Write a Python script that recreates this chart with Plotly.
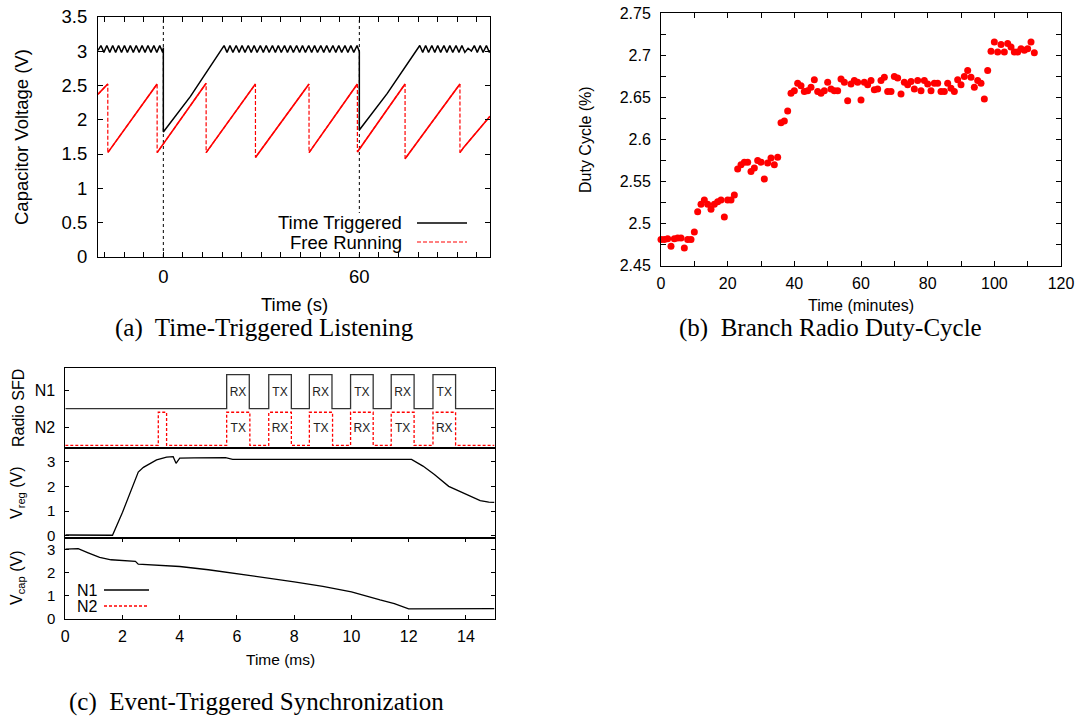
import plotly.graph_objects as go

W, H = 1081, 717


def fx(p):
    return p / W


def fy(p):
    return 1 - p / H


# ---------------- (a) Time-Triggered Listening ----------------
tt_time = [-20.0, -19.1, -18.2, -17.3, -16.4, -15.5, -14.6, -13.7, -12.8, -11.9, -11.0,
           -10.1, -9.2, -8.3, -7.4, -6.5, -5.6, -4.7, -3.8, -2.9, -2.0, -1.1, -0.2, 0.0, 0.0,
           8.3, 18.6, 19.5, 20.4, 21.3, 22.3, 23.2, 24.1, 25.0, 26.0, 26.9, 27.8, 28.7, 29.7,
           30.6, 31.5, 32.4, 33.4, 34.3, 35.2, 36.1, 37.1, 38.0, 38.9, 39.8, 40.8, 41.7, 42.6,
           43.5, 44.5, 45.4, 46.3, 47.2, 48.2, 49.1, 50.0, 50.9, 51.9, 52.8, 53.7, 54.6, 55.6,
           56.5, 57.4, 58.3, 59.3, 60.0, 60.0, 68.5, 78.5, 79.4, 80.3, 81.2, 82.2, 83.1, 84.0,
           84.9, 85.9, 86.8, 87.7, 88.6, 89.6, 90.5, 91.4, 92.3, 93.3, 94.3, 95.2, 96.1, 97.0,
           97.9, 98.9, 99.8, 100.0]
tt_volt = [3.01, 3.08, 2.98, 3.08, 2.98, 3.08, 2.98, 3.08, 2.98, 3.08, 2.98,
           3.08, 2.98, 3.08, 2.98, 3.08, 2.98, 3.08, 2.98, 3.08, 2.98, 3.08, 2.98, 3.05, 1.82,
           2.34, 3.08, 2.98, 3.08, 2.98, 3.08, 2.98, 3.08, 2.98, 3.08, 2.98, 3.08, 2.98, 3.08,
           2.98, 3.08, 2.98, 3.08, 2.98, 3.08, 2.98, 3.08, 2.98, 3.08, 2.98, 3.08, 2.98, 3.08,
           2.98, 3.08, 2.98, 3.08, 2.98, 3.08, 2.98, 3.08, 2.98, 3.08, 2.98, 3.08, 2.98, 3.08,
           2.98, 3.08, 2.98, 3.08, 2.99, 1.85, 2.38, 3.08, 2.98, 3.08, 2.98, 3.08, 2.98, 3.08,
           2.98, 3.08, 2.98, 3.08, 2.98, 3.08, 2.98, 3.08, 2.98, 3.04, 3.00, 3.08, 2.98, 3.08,
           2.98, 3.08, 2.98, 3.01]

fr_time = [-20.0, -17.0, -17.0, -1.9, -1.9, 13.1, 13.1, 28.2, 28.2, 44.6, 44.6, 59.4, 59.4,
           74.0, 74.0, 90.8, 90.8, 92.0, 100.0]
fr_volt = [2.37, 2.52, 1.52, 2.52, 1.52, 2.53, 1.52, 2.52, 1.45, 2.52, 1.52, 2.52, 1.53,
           2.52, 1.43, 2.52, 1.52, 1.60, 2.05]

a_label_ticks = [0, 60]
a_minor_step = 6
a_grid_times = [0, 60]

# ---------------- (b) Branch Radio Duty-Cycle ----------------
dc_minutes = list(range(0, 113))
dc_values = [2.481, 2.481, 2.482, 2.473, 2.482, 2.483, 2.483, 2.471, 2.481, 2.481,
             2.490, 2.514, 2.523, 2.528, 2.523, 2.517, 2.523, 2.526, 2.528, 2.508,
             2.528, 2.528, 2.534, 2.565, 2.570, 2.573, 2.573, 2.562, 2.566, 2.575,
             2.573, 2.553, 2.572, 2.578, 2.570, 2.579, 2.620, 2.622, 2.634, 2.655,
             2.658, 2.667, 2.664, 2.657, 2.658, 2.662, 2.671, 2.657, 2.655, 2.658,
             2.668, 2.660, 2.658, 2.658, 2.672, 2.668, 2.646, 2.666, 2.670, 2.668,
             2.647, 2.668, 2.665, 2.670, 2.659, 2.660, 2.670, 2.674, 2.657, 2.657,
             2.675, 2.673, 2.654, 2.668, 2.665, 2.669, 2.660, 2.670, 2.658, 2.670,
             2.666, 2.658, 2.667, 2.667, 2.657, 2.657, 2.667, 2.661, 2.657, 2.671,
             2.665, 2.675, 2.682, 2.674, 2.662, 2.670, 2.667, 2.648, 2.682, 2.705,
             2.716, 2.704, 2.713, 2.704, 2.714, 2.710, 2.704, 2.704, 2.708, 2.706,
             2.708, 2.716, 2.703]

# ---------------- (c) Event-Triggered Synchronization ----------------
n1_start = [5.64, 7.11, 8.53, 9.97, 11.39, 12.85]
n1_end = [6.43, 7.90, 9.32, 10.76, 12.19, 13.64]
n1_labels = ["RX", "TX", "RX", "TX", "RX", "TX"]
n2_start = [3.25, 5.64, 7.11, 8.53, 9.97, 11.39, 12.85]
n2_end = [3.54, 6.45, 7.90, 9.34, 10.76, 12.19, 13.64]
n2_label_start = [5.64, 7.11, 8.53, 9.97, 11.39, 12.85]
n2_label_end = [6.45, 7.90, 9.34, 10.76, 12.19, 13.64]
n2_labels = ["TX", "RX", "TX", "RX", "TX", "RX"]

vreg_t = [0.0, 0.5, 1.0, 1.65, 2.0, 2.3, 2.55, 2.73, 3.0, 3.19, 3.54, 3.77, 3.87, 4.0,
          4.5, 5.0, 5.6, 5.85, 6.5, 7.5, 8.0, 8.5, 9.5, 10.5, 11.5, 12.1, 12.5, 12.9,
          13.4, 13.8, 14.2, 14.5, 14.8, 15.0]
vreg_v = [0.03, 0.02, 0.03, 0.02, 0.95, 1.85, 2.58, 2.77, 2.95, 3.07, 3.18, 3.20, 2.93, 3.14,
          3.15, 3.16, 3.16, 3.09, 3.09, 3.09, 3.07, 3.09, 3.09, 3.09, 3.09, 3.09, 2.82, 2.48,
          2.00, 1.78, 1.58, 1.42, 1.36, 1.35]

vcap_t = [0.0, 0.45, 0.8, 1.2, 1.6, 2.0, 2.45, 2.55, 3.0, 4.0, 5.0, 6.0, 7.0, 8.0, 9.0,
          10.0, 11.0, 11.5, 12.0, 12.5, 13.5, 15.0]
vcap_v = [3.01, 3.03, 2.85, 2.65, 2.55, 2.52, 2.48, 2.36, 2.33, 2.26, 2.12, 1.95, 1.78,
          1.60, 1.40, 1.17, 0.82, 0.66, 0.44, 0.44, 0.45, 0.45]

# ---------------- geometry (pixels) ----------------
A_L, A_R, A_T, A_B = 98, 490, 16.7, 257
B_L, B_R, B_T, B_B = 661, 1061, 13.3, 265.7
C_L, C_R = 65.3, 494.5
C1_T, C1_B, C2_B, C3_B = 368.3, 448.3, 537.7, 619

SANS = "Liberation Sans, Arial, sans-serif"
SERIF = "Liberation Serif, Times New Roman, serif"
RED = "#ff0000"

fig = go.Figure()

# (a) traces
fig.add_trace(go.Scatter(x=tt_time, y=tt_volt, mode="lines", xaxis="x", yaxis="y",
                         line=dict(color="black", width=1.5), showlegend=False,
                         name="Time Triggered"))
fig.add_trace(go.Scatter(x=fr_time, y=fr_volt, mode="lines", xaxis="x", yaxis="y",
                         line=dict(color=RED, width=1.2, dash="4px,2px"), showlegend=False,
                         name="Free Running"))
ramp_x, ramp_y = [], []
for i, (t, v) in enumerate(zip(fr_time, fr_volt)):
    if i > 0 and fr_time[i - 1] == t:
        ramp_x.append(None)
        ramp_y.append(None)
    ramp_x.append(t)
    ramp_y.append(v)
fig.add_trace(go.Scatter(x=ramp_x, y=ramp_y, mode="lines", xaxis="x", yaxis="y",
                         line=dict(color=RED, width=1.6), showlegend=False,
                         name="Free Running", hoverinfo="skip"))

# (b) trace
fig.add_trace(go.Scatter(x=dc_minutes, y=dc_values, mode="markers", xaxis="x2", yaxis="y2",
                         marker=dict(color=RED, size=7, line=dict(width=0)),
                         showlegend=False, cliponaxis=False, name="Duty Cycle"))


def step_wave(starts, ends, lo, hi, t0=0.0, t1=15.0):
    xs, ys = [t0], [lo]
    for s, e in zip(starts, ends):
        xs += [s, s, e, e]
        ys += [lo, hi, hi, lo]
    xs.append(t1)
    ys.append(lo)
    return xs, ys


N1_LO, N1_HI = 1.11, 2.14
N2_LO, N2_HI = 0.0, 1.0
x1, y1 = step_wave(n1_start, n1_end, N1_LO, N1_HI)
x2, y2 = step_wave(n2_start, n2_end, N2_LO, N2_HI)
fig.add_trace(go.Scatter(x=x1, y=y1, mode="lines", xaxis="x3", yaxis="y3",
                         line=dict(color="#333333", width=1.3), showlegend=False, name="N1"))
fig.add_trace(go.Scatter(x=x2, y=y2, mode="lines", xaxis="x3", yaxis="y3",
                         line=dict(color=RED, width=1.3, dash="3px,2px"), showlegend=False,
                         name="N2"))
fig.add_trace(go.Scatter(x=[(s + e) / 2 for s, e in zip(n1_start, n1_end)],
                         y=[(N1_LO + N1_HI) / 2 - 0.04] * len(n1_start), text=n1_labels,
                         mode="text", xaxis="x3", yaxis="y3", showlegend=False,
                         textfont=dict(family=SANS, size=12, color="#222222")))
fig.add_trace(go.Scatter(x=[(s + e) / 2 for s, e in zip(n2_label_start, n2_label_end)],
                         y=[(N2_LO + N2_HI) / 2 - 0.02] * len(n2_label_start), text=n2_labels,
                         mode="text", xaxis="x3", yaxis="y3", showlegend=False,
                         textfont=dict(family=SANS, size=12, color="#222222")))
fig.add_trace(go.Scatter(x=vreg_t, y=vreg_v, mode="lines", xaxis="x4", yaxis="y4",
                         line=dict(color="black", width=1.3), showlegend=False, name="Vreg"))
fig.add_trace(go.Scatter(x=vcap_t, y=vcap_v, mode="lines", xaxis="x5", yaxis="y5",
                         line=dict(color="black", width=1.3), showlegend=False, name="Vcap"))

axis_common = dict(showline=True, linecolor="black", linewidth=1, mirror="ticks",
                   ticks="inside", tickcolor="black", showgrid=False, zeroline=False,
                   fixedrange=True, automargin=False)

layout = dict(
    width=W, height=H, margin=dict(l=0, r=0, t=0, b=0, autoexpand=False),
    paper_bgcolor="white", plot_bgcolor="white", showlegend=False,
    font=dict(family=SANS, color="black"),
    xaxis=dict(axis_common, domain=[fx(A_L), fx(A_R)], range=[-20, 100], anchor="y",
               tickmode="array", tickvals=a_label_ticks, ticklen=5,
               tickfont=dict(size=18.5), ticklabelstandoff=3,
               minor=dict(dtick=a_minor_step, tick0=0, ticklen=5, ticks="inside",
                          tickcolor="black")),
    yaxis=dict(axis_common, domain=[fy(A_B), fy(A_T)], range=[0, 3.5], anchor="x",
               dtick=0.5, ticklen=5, tickfont=dict(size=18.5), ticklabelstandoff=6),
    xaxis2=dict(axis_common, domain=[fx(B_L), fx(B_R)], range=[0, 120], anchor="y2",
                dtick=20, ticklen=5, tickfont=dict(size=16), ticklabelstandoff=3,
                minor=dict(dtick=10, ticklen=5, ticks="inside", tickcolor="black")),
    yaxis2=dict(axis_common, domain=[fy(B_B), fy(B_T)], range=[2.45, 2.75], anchor="x2",
                dtick=0.05, ticklen=5, tickfont=dict(size=16), ticklabelstandoff=6,
                minor=dict(dtick=0.025, ticklen=5, ticks="inside", tickcolor="black")),
    xaxis3=dict(axis_common, domain=[fx(C_L), fx(C_R)], range=[0, 15], anchor="y3",
                ticks="", showticklabels=False),
    yaxis3=dict(axis_common, domain=[fy(C1_B), fy(C1_T)], range=[-0.09, 2.33], anchor="x3",
                tickmode="array", tickvals=[0.55, 1.65], ticktext=["N2", "N1"], ticklen=4,
                tickfont=dict(size=16), ticklabelstandoff=6),
    xaxis4=dict(axis_common, domain=[fx(C_L), fx(C_R)], range=[0, 15], anchor="y4",
                ticks="", showticklabels=False),
    yaxis4=dict(axis_common, domain=[fy(C2_B), fy(C1_B)], range=[-0.08, 3.54], anchor="x4",
                dtick=1, ticklen=4, tickfont=dict(size=15), ticklabelstandoff=6),
    xaxis5=dict(axis_common, domain=[fx(C_L), fx(C_R)], range=[0, 15], anchor="y5",
                dtick=2, ticklen=4, tickfont=dict(size=16), ticklabelstandoff=3),
    yaxis5=dict(axis_common, domain=[fy(C3_B), fy(C2_B)], range=[0, 3.5], anchor="x5",
                dtick=1, ticklen=4, tickfont=dict(size=15), ticklabelstandoff=6),
)

shapes = []
for t in a_grid_times:
    shapes.append(dict(type="line", xref="x", yref="y", x0=t, x1=t, y0=0, y1=3.5,
                       line=dict(color="black", width=1, dash="dot"), layer="below"))
# legend box (a)
shapes.append(dict(type="rect", xref="paper", yref="paper", x0=fx(272), x1=fx(478),
                   y0=fy(252), y1=fy(213), fillcolor="white", line=dict(width=0),
                   layer="above"))
shapes.append(dict(type="line", xref="paper", yref="paper", x0=fx(417), x1=fx(467),
                   y0=fy(223), y1=fy(223), line=dict(color="black", width=1.5)))
shapes.append(dict(type="line", xref="paper", yref="paper", x0=fx(417), x1=fx(467),
                   y0=fy(242), y1=fy(242), line=dict(color=RED, width=1.2, dash="4px,2px")))
# legend (c)
shapes.append(dict(type="line", xref="paper", yref="paper", x0=fx(104), x1=fx(149),
                   y0=fy(590), y1=fy(590), line=dict(color="black", width=1.3)))
shapes.append(dict(type="line", xref="paper", yref="paper", x0=fx(104), x1=fx(149),
                   y0=fy(606), y1=fy(606), line=dict(color=RED, width=1.3, dash="3px,2px")))
layout["shapes"] = shapes


def ann(text, x, y, size, angle=0, family=SANS, xanchor="center"):
    return dict(text=text, x=fx(x), y=fy(y), xref="paper", yref="paper", showarrow=False,
                textangle=angle, xanchor=xanchor, yanchor="middle",
                font=dict(family=family, size=size, color="black"))


layout["annotations"] = [
    ann("Capacitor Voltage (V)", 21, 137, 18.5, -90),
    ann("Time (s)", 294, 304, 18.5),
    ann("(a)  Time-Triggered Listening", 264, 328, 25, family=SERIF),
    ann("Time Triggered", 404, 223, 18.5, xanchor="right"),
    ann("Free Running", 404, 242, 18.5, xanchor="right"),
    ann("Duty Cycle (%)", 585, 140, 16, -90),
    ann("Time (minutes)", 861, 305, 16),
    ann("(b)  Branch Radio Duty-Cycle", 831, 328, 25, family=SERIF),
    ann("Radio SFD", 18, 408, 16, -90),
    ann("V<sub>reg</sub> (V)", 17, 493, 16, -90),
    ann("V<sub>cap</sub> (V)", 17, 578, 16, -90),
    ann("Time (ms)", 280, 659, 15.5),
    ann("(c)  Event-Triggered Synchronization", 256, 702, 25, family=SERIF),
    ann("N1", 75, 590, 16, xanchor="left"),
    ann("N2", 75, 606, 16, xanchor="left"),
]

fig.update_layout(layout)
fig.write_html("out.html")
